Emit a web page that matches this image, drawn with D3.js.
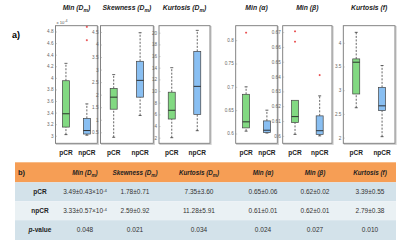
<!DOCTYPE html>
<html>
<head>
<meta charset="utf-8">
<script src="https://cdn.jsdelivr.net/npm/d3@7"></script>
<style>
  body { margin: 0; background: #fff; }
  svg { font-family: "Liberation Sans", Arial, sans-serif; display: block; }
</style>
</head>
<body>
<script>
const width = 400;
const height = 245;

// ---- data ----
const groups = ["pCR", "npCR"];
const panelTitles = [
  ["Min (D", "m", ")"], ["Skewness (D", "m", ")"], ["Kurtosis (D", "m", ")"],
  ["Min (α)", "", ""], ["Min (β)", "", ""], ["Kurtosis (f)", "", ""]
];
const yTicks = [
  [3, 3.2, 3.4, 3.6, 3.8, 4, 4.2, 4.4, 4.6, 4.8],
  [0.5, 1, 1.5, 2, 2.5, 3, 3.5, 4, 4.5],
  [2, 4, 6, 8, 10, 12, 14, 16, 18, 20],
  [0.6, 0.65, 0.7, 0.75, 0.8],
  [0.6, 0.61, 0.62, 0.63, 0.64, 0.65, 0.66, 0.67],
  [2, 2.5, 3, 3.5, 4]
];
const yRanges = [[2.87, 4.9], [0.06, 4.75], [1.04, 21.2], [0.579, 0.831], [0.595, 0.6743], [1.88, 4.36]];
// [lower whisker, q1, median, q3, upper whisker]
const pcrStats = [
  [3.02, 3.15, 3.38, 3.95, 4.25],
  [0.3, 1.42, 1.9, 2.25, 2.8],
  [2, 5.2, 6.7, 9.8, 14],
  [0.605, 0.612, 0.625, 0.684, 0.70],
  [0.601, 0.609, 0.613, 0.624, 0.624],
  [2.63, 2.92, 3.59, 3.66, 4.22]
];
const npcrStats = [
  [3.01, 3.03, 3.09, 3.30, 3.55],
  [1.17, 1.9, 2.57, 3.33, 4.47],
  [3.2, 6, 10.8, 16.8, 20.4],
  [0.601, 0.602, 0.607, 0.627, 0.65],
  [0.6, 0.601, 0.6035, 0.6135, 0.627],
  [2.02, 2.57, 2.67, 3.06, 3.52]
];
const pcrOutliers = [[], [], [], [0.816], [0.6705, 0.6635], []];
const npcrOutliers = [[4.88, 4.65], [], [], [], [0.641], []];

const rowLabels = ["pCR", "npCR", "p-value"];
const pcrRow = ["3.49±0.43×10|-4", "1.78±0.71", "7.35±3.60", "0.65±0.06", "0.62±0.02", "3.39±0.55"];
const npcrRow = ["3.33±0.57×10|-4", "2.59±0.92", "11.28±5.91", "0.61±0.01", "0.62±0.01", "2.79±0.38"];
const pRow = ["0.048", "0.021", "0.034", "0.024", "0.027", "0.010"];

// ---- layout ----
const panelX = [[55.5, 97.3], [100.5, 153.3], [159, 210], [235.7, 277.3], [282.7, 332], [343.3, 395]];
const frameTop = 25.7, frameBottom = 143.3;
const boxW = 7;

const svg = d3.select('body').append('svg')
  .attr('width', width)
  .attr('height', height);

svg.append('text').attr('x', 12).attr('y', 38)
  .attr('font-size', 9).attr('font-weight', 'bold').text('a)');

panelX.forEach((px, i) => {
  const g = svg.append('g');
  const y = d3.scaleLinear().domain(yRanges[i]).range([frameBottom, frameTop]);
  const x = d3.scalePoint().domain(groups).range(px).padding(0.5);

  // frame with soft shadow
  g.append('rect')
    .attr('x', px[0] + 1).attr('y', frameTop + 1)
    .attr('width', px[1] - px[0]).attr('height', frameBottom - frameTop)
    .attr('fill', 'none').attr('stroke', '#ccc').attr('stroke-width', 1.2);
  g.append('rect')
    .attr('x', px[0]).attr('y', frameTop)
    .attr('width', px[1] - px[0]).attr('height', frameBottom - frameTop)
    .attr('fill', '#fff').attr('stroke', '#777').attr('stroke-width', 0.9);

  const axis = d3.axisLeft(y).tickValues(yTicks[i]).tickSize(-1.5).tickPadding(2)
    .tickFormat(d => String(+d.toFixed(3)));
  const ag = g.append('g').attr('transform', `translate(${px[0]},0)`).call(axis);
  ag.select('.domain').remove();
  ag.selectAll('line').attr('stroke', '#999').attr('stroke-width', 0.5);
  ag.selectAll('text').attr('font-size', 4.6).attr('fill', '#666');

  // title
  const t = g.append('text')
    .attr('x', (px[0] + px[1]) / 2 + (i < 3 ? 0 : 0)).attr('y', 10)
    .attr('text-anchor', 'middle').attr('font-size', 6.8)
    .attr('font-weight', 'bold').attr('font-style', 'italic').attr('fill', '#222');
  t.append('tspan').text(panelTitles[i][0]);
  if (panelTitles[i][1]) {
    t.append('tspan').attr('font-size', 5).attr('dy', 1.8).text(panelTitles[i][1]);
    t.append('tspan').attr('dy', -1.8).text(panelTitles[i][2]);
  }

  const sets = [
    { name: 'pCR', s: pcrStats[i], o: pcrOutliers[i], fill: '#82d982' },
    { name: 'npCR', s: npcrStats[i], o: npcrOutliers[i], fill: '#89bff2' }
  ];
  sets.forEach(d => {
    const cx = x(d.name);
    const [lo, q1, md, q3, hi] = d.s;
    // whiskers
    [[lo, q1], [q3, hi]].forEach(([a, b]) => {
      if (a === b) return;
      g.append('line').attr('x1', cx).attr('x2', cx).attr('y1', y(a)).attr('y2', y(b))
        .attr('stroke', '#222').attr('stroke-width', 0.7).attr('stroke-dasharray', '2,1.5');
    });
    [lo, hi].forEach(v => {
      if (v === q1 || v === q3) return;
      g.append('line').attr('x1', cx - 1.5).attr('x2', cx + 1.5).attr('y1', y(v)).attr('y2', y(v))
        .attr('stroke', '#222').attr('stroke-width', 0.7);
    });
    g.append('rect')
      .attr('x', cx - boxW / 2).attr('y', y(q3))
      .attr('width', boxW).attr('height', y(q1) - y(q3))
      .attr('fill', d.fill).attr('stroke', '#444').attr('stroke-width', 0.7);
    g.append('line').attr('x1', cx - boxW / 2).attr('x2', cx + boxW / 2)
      .attr('y1', y(md)).attr('y2', y(md)).attr('stroke', '#222').attr('stroke-width', 0.9);
    d.o.forEach(v => {
      g.append('path').attr('d', `M${cx - 1},${y(v)}h2M${cx},${y(v) - 1}v2`)
        .attr('stroke', '#e31a1c').attr('stroke-width', 0.7);
    });
    g.append('text').attr('x', cx).attr('y', 155)
      .attr('text-anchor', 'middle').attr('font-size', 6.5)
      .attr('font-weight', 'bold').attr('fill', '#222').text(d.name);
  });

  if (i === 0) {
    const lab = g.append('text').attr('x', px[0] + 1).attr('y', 24)
      .attr('font-size', 4.2).attr('fill', '#555');
    lab.append('tspan').text('x 10');
    lab.append('tspan').attr('dy', -2.5).attr('font-size', 3.6).text('-4');
  }
});

// ---- table ----
const tableX = 15, tableR = 396;
const colX = [40, 85, 135, 199, 263, 315, 370];
const rowY = [162.3, 182.3, 201.2, 220.2, 240];
const rowFill = ['#f69e55', '#d3e2ea', '#eaf1f4', '#d3e2ea'];

rowFill.forEach((c, r) => {
  svg.append('rect').attr('x', tableX).attr('y', rowY[r])
    .attr('width', tableR - tableX).attr('height', rowY[r + 1] - rowY[r])
    .attr('fill', c);
});

svg.append('text').attr('x', 18).attr('y', 175)
  .attr('font-size', 7.5).attr('font-weight', 'bold').attr('fill', '#222').text('b)');

panelTitles.forEach((tt, i) => {
  const t = svg.append('text').attr('x', colX[i + 1]).attr('y', 175)
    .attr('text-anchor', 'middle').attr('font-size', 6.3)
    .attr('font-weight', 'bold').attr('font-style', 'italic').attr('fill', '#222');
  t.append('tspan').text(tt[0]);
  if (tt[1]) {
    t.append('tspan').attr('font-size', 4.6).attr('dy', 1.6).text(tt[1]);
    t.append('tspan').attr('dy', -1.6).text(tt[2]);
  }
});

const rows = [pcrRow, npcrRow, pRow];
rows.forEach((vals, r) => {
  const cy = (rowY[r + 1] + rowY[r + 2]) / 2 + 2.3;
  const lab = svg.append('text').attr('x', colX[0]).attr('y', cy)
    .attr('text-anchor', 'middle').attr('font-size', 6.5)
    .attr('font-weight', 'bold').attr('fill', '#222');
  if (rowLabels[r] === 'p-value') {
    lab.append('tspan').attr('font-style', 'italic').text('p');
    lab.append('tspan').text('-value');
  } else {
    lab.text(rowLabels[r]);
  }
  vals.forEach((v, c) => {
    const t = svg.append('text').attr('x', colX[c + 1]).attr('y', cy)
      .attr('text-anchor', 'middle').attr('font-size', 6.5).attr('fill', '#333');
    const parts = v.split('|');
    t.append('tspan').text(parts[0]);
    if (parts[1]) t.append('tspan').attr('dy', -2.3).attr('font-size', 4.3).text(parts[1]);
  });
});
</script>
</body>
</html>
